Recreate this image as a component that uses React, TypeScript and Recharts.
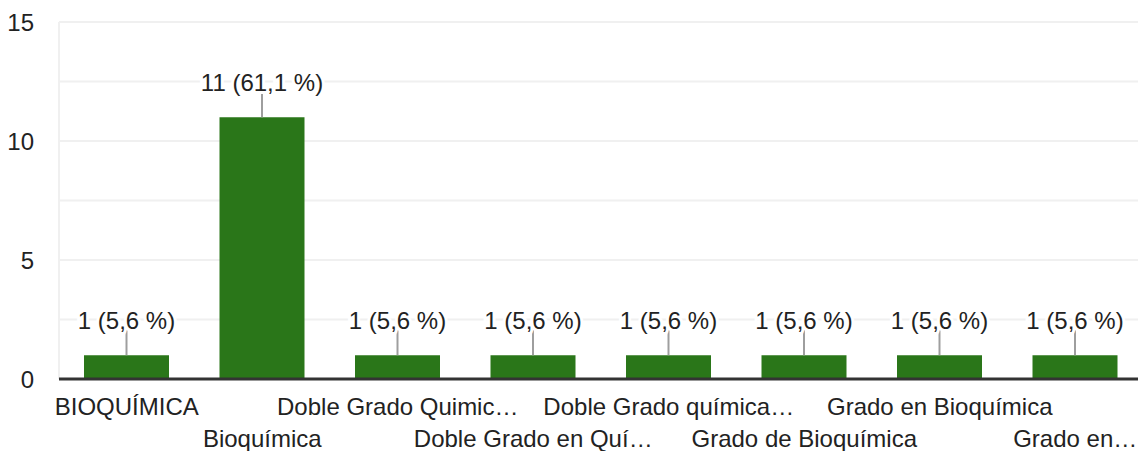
import { BarChart, Bar, XAxis, YAxis, CartesianGrid, LabelList } from "recharts";

const categories = [
  "BIOQUÍMICA",
  "Bioquímica",
  "Doble Grado Quimic…",
  "Doble Grado en Quí…",
  "Doble Grado química…",
  "Grado de Bioquímica",
  "Grado en Bioquímica",
  "Grado en…",
];
const counts = [1, 11, 1, 1, 1, 1, 1, 1];
const yTicks = [0, 2.5, 5, 7.5, 10, 12.5, 15];
const yLabels = [0, 5, 10, 15];

const total = counts.reduce((a, b) => a + b, 0);
const data = categories.map((name, i) => ({ name, value: counts[i] }));

const FONT = "'Liberation Sans', Arial, sans-serif";
const TEXT = "#222222";

function XTick(props: any) {
  const { x, y, payload, index } = props;
  const dy = index % 2 === 0 ? 36 : 68;
  return (
    <text x={x} y={y + dy} textAnchor="middle" fill={TEXT} fontSize={24} fontFamily={FONT}>
      {payload.value}
    </text>
  );
}

function YTick(props: any) {
  const { y, payload } = props;
  if (!yLabels.includes(payload.value)) return null;
  return (
    <text x={34} y={y + 8.5} textAnchor="end" fill={TEXT} fontSize={24} fontFamily={FONT}>
      {payload.value}
    </text>
  );
}

function ValueLabel(props: any) {
  const { x, y, width, value } = props;
  const cx = x + width / 2;
  const pct = ((value / total) * 100).toFixed(1).replace(".", ",");
  return (
    <g>
      <line x1={cx} x2={cx} y1={y - 25} y2={y} stroke="#9e9e9e" strokeWidth={2} />
      <text
        x={cx}
        y={y - 26}
        textAnchor="middle"
        fill={TEXT}
        fontSize={24}
        fontFamily={FONT}
        stroke="#ffffff"
        strokeWidth={6}
        paintOrder="stroke"
      >
        {`${value} (${pct} %)`}
      </text>
    </g>
  );
}

export default function App() {
  return (
    <div style={{ position: "absolute", left: 0, top: 0, width: 1138, height: 451, overflow: "hidden", background: "#fff" }}>
      <BarChart
        width={1143}
        height={451}
        data={data}
        margin={{ top: 22, right: 0, left: 0, bottom: 0 }}
        barCategoryGap={25}
      >
        <CartesianGrid horizontal vertical={false} stroke="#f0f0f0" strokeWidth={2} />
        <YAxis
          width={59}
          domain={[0, 15]}
          ticks={yTicks}
          interval={0}
          axisLine={{ stroke: "#f0f0f0", strokeWidth: 2 }}
          tickLine={false}
          tick={<YTick />}
        />
        <XAxis
          dataKey="name"
          height={72}
          interval={0}
          tickLine={false}
          tickSize={0}
          tickMargin={0}
          axisLine={{ stroke: "#333333", strokeWidth: 3 }}
          tick={<XTick />}
        />
        <Bar dataKey="value" fill="#2a7619" barSize={85} isAnimationActive={false}>
          <LabelList dataKey="value" content={<ValueLabel />} />
        </Bar>
      </BarChart>
    </div>
  );
}
